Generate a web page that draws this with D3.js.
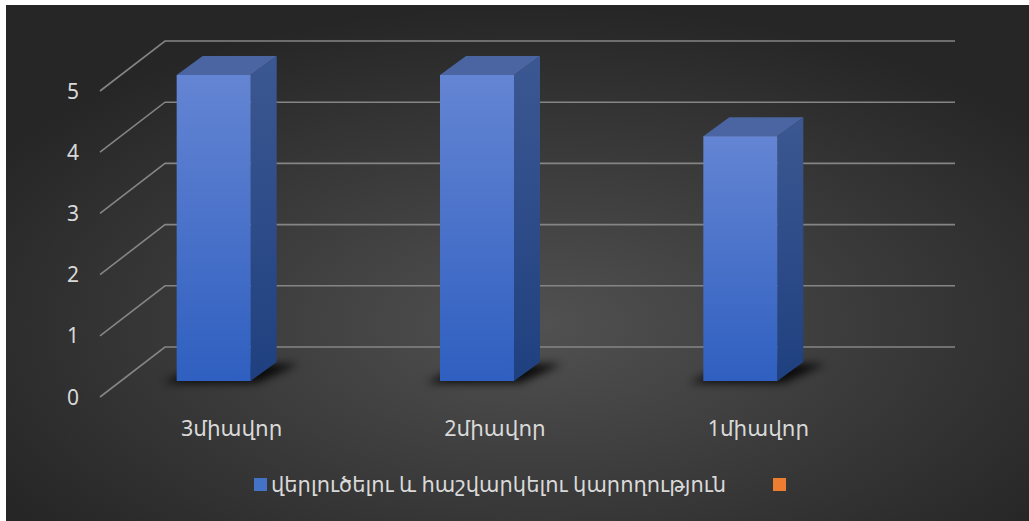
<!DOCTYPE html>
<html><head><meta charset="utf-8">
<script src="https://cdn.jsdelivr.net/npm/d3@7"></script>
<style>
html,body{margin:0;padding:0;background:#fff;overflow:hidden;}
svg{display:block;}
</style></head>
<body>
<svg id="c" width="1029" height="521"></svg>
<script>
const categories = ["3միավոր", "2միավոր", "1միավոր"];
const values = [5, 5, 4];
const yTicks = [0, 1, 2, 3, 4, 5];
const seriesNames = ["վերլուծելու և հաշվարկելու կարողություն", ""];
const seriesColors = ["#4472c4", "#ed7d31"];

const W = 1029, H = 521;
const svg = d3.select("#c");
const defs = svg.append("defs");

// background
const bg = defs.append("radialGradient").attr("id","bg")
  .attr("cx","52%").attr("cy","62%").attr("r","62%");
bg.append("stop").attr("offset","0%").attr("stop-color","#515151");
bg.append("stop").attr("offset","100%").attr("stop-color","#262626");
svg.append("rect").attr("x",6).attr("y",5).attr("width",W-6).attr("height",H-5).attr("fill","url(#bg)");

const gf = defs.append("linearGradient").attr("id","front").attr("x1",0).attr("y1",0).attr("x2",0).attr("y2",1);
gf.append("stop").attr("offset","0%").attr("stop-color","#6485d3");
gf.append("stop").attr("offset","100%").attr("stop-color","#2f5fc0");
const gs = defs.append("linearGradient").attr("id","side").attr("x1",0).attr("y1",0).attr("x2",0).attr("y2",1);
gs.append("stop").attr("offset","0%").attr("stop-color","#3c5892");
gs.append("stop").attr("offset","100%").attr("stop-color","#1f407f");
const blur = defs.append("filter").attr("id","blur").attr("x","-50%").attr("y","-50%").attr("width","200%").attr("height","200%");
blur.append("feGaussianBlur").attr("stdDeviation",4);

// geometry of the 3D projection
const floorFrontLeft = 100, floorFrontRight = 890;
const depthX = 65, depthY = -50;          // wall depth offset
const barDX = 26, barDY = -19;            // bar depth offset
const barW = 74;

const x = d3.scaleBand().domain(categories).range([floorFrontLeft, floorFrontRight]);
const yBack = d3.scaleLinear().domain([0,5]).range([347, 41]);
const yBar = d3.scaleLinear().domain([0,5]).range([381, 75]);

// gridlines
const grid = svg.append("g").attr("stroke","#858585").attr("stroke-width",1.6).attr("fill","none");
yTicks.forEach(t => {
  const yb = yBack(t);
  grid.append("path").attr("d", `M${floorFrontLeft},${yb - depthY} L${floorFrontLeft + depthX},${yb} L${floorFrontRight + depthX},${yb}`);
});

// tick labels
const font = "'Noto Sans','DejaVu Sans',sans-serif";
svg.append("g").selectAll("text").data(yTicks).join("text")
  .attr("x", 73).attr("y", d => yBack(d) - depthY)
  .attr("dy","0.36em").attr("text-anchor","middle")
  .attr("fill","#d9d9d9").attr("font-family",font).attr("font-size",21)
  .text(d => d);

// bars
const bars = svg.append("g");
categories.forEach((c,i) => {
  const v = values[i];
  const x0 = x(c) + x.bandwidth()/2 - 18 - barW/2, x1 = x0 + barW;
  const yb = yBar(0), yt = yBar(v);
  // shadow
  bars.append("path").attr("filter","url(#blur)").attr("fill","#000").attr("opacity",0.85)
    .attr("d", `M${x0-14},${yb+2} L${x1+6},${yb+2} L${x1+barDX+22},${yb+barDY+2} L${x0+barDX},${yb+barDY+2} Z`);
  // side
  bars.append("path").attr("fill","url(#side)")
    .attr("d", `M${x1},${yt} L${x1+barDX},${yt+barDY} L${x1+barDX},${yb+barDY} L${x1},${yb} Z`);
  // top
  bars.append("path").attr("fill","#4a65a2")
    .attr("d", `M${x0},${yt} L${x0+barDX},${yt+barDY} L${x1+barDX},${yt+barDY} L${x1},${yt} Z`);
  // front
  bars.append("rect").attr("x",x0).attr("y",yt).attr("width",barW).attr("height",yb-yt).attr("fill","url(#front)");
});

// category labels
svg.append("g").selectAll("text").data(categories).join("text")
  .attr("x", d => x(d) + x.bandwidth()/2).attr("y", 428)
  .attr("dy","0.36em").attr("text-anchor","middle")
  .attr("fill","#d9d9d9").attr("font-family",font).attr("font-size",21.5)
  .text(d => d);

// legend
const lg = svg.append("g");
lg.append("rect").attr("x",254).attr("y",478).attr("width",13).attr("height",13).attr("fill",seriesColors[0]);
lg.append("text").attr("x",271).attr("y",484.5).attr("dy","0.36em")
  .attr("fill","#d9d9d9").attr("font-family",font).attr("font-size",21).text(seriesNames[0]);
lg.append("rect").attr("x",773).attr("y",478).attr("width",13).attr("height",13).attr("fill",seriesColors[1]);
</script>
</body></html>
